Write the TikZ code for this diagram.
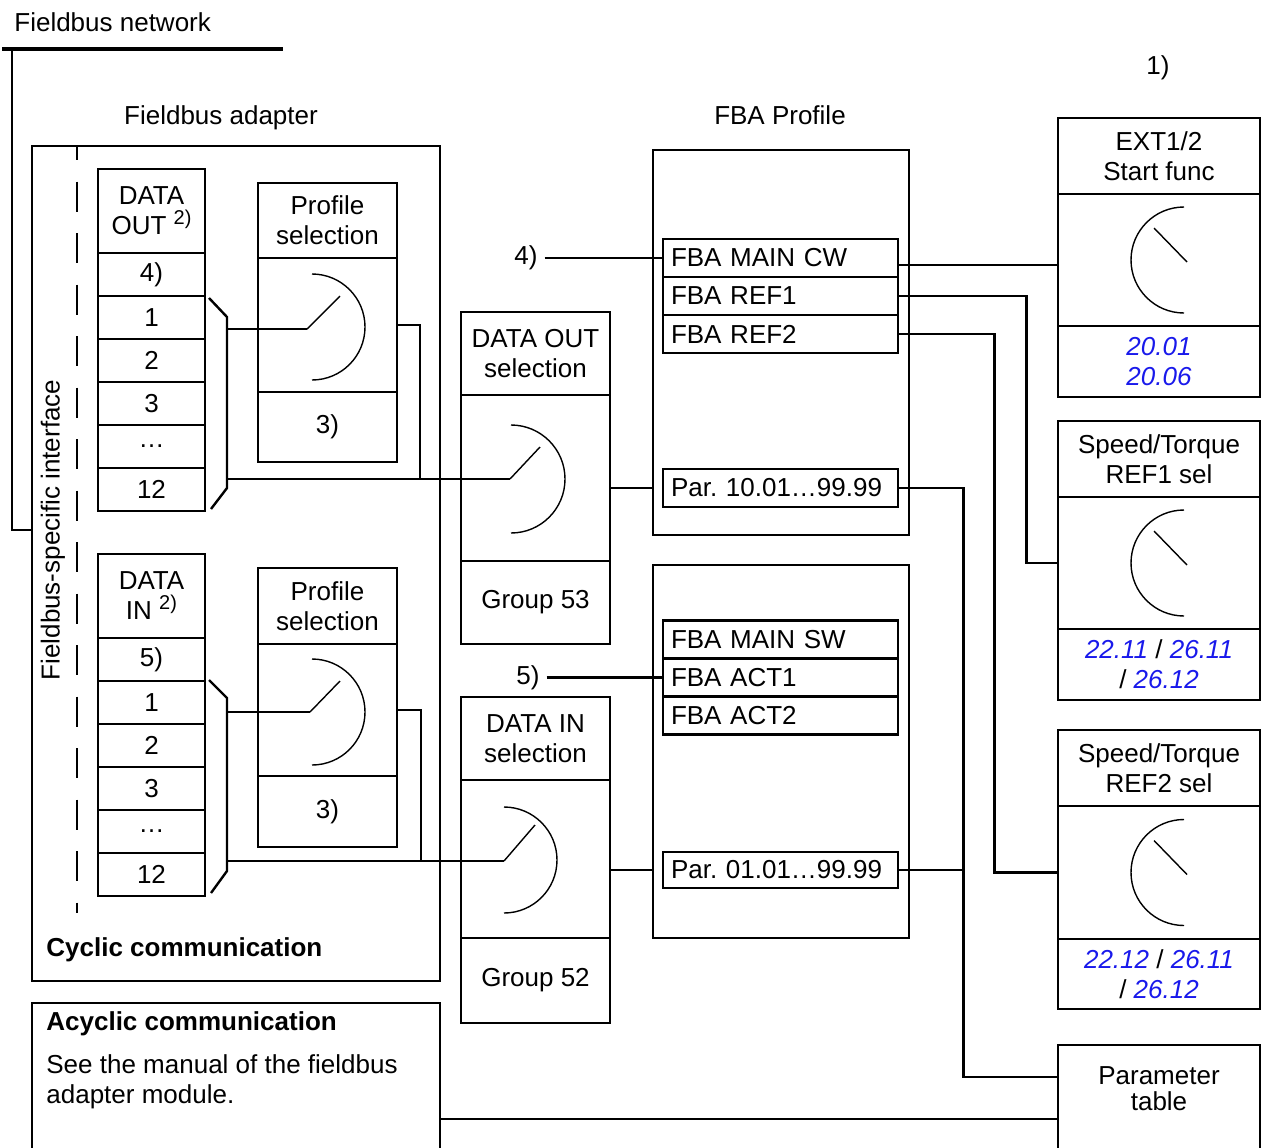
\documentclass[tikz,border=0pt]{standalone}
\usepackage{fontspec}
\setmainfont{Liberation Sans}
\usetikzlibrary{positioning,calc}

\definecolor{parblue}{RGB}{25,25,235}
\newcommand{\pnum}[1]{\textcolor{parblue}{\textit{#1}}}
\newcommand{\supnote}[1]{\raisebox{0.4em}{\fontsize{10}{10}\selectfont #1}}

\begin{document}
\frenchspacing
\begin{tikzpicture}[
    x=0.5pt, y=-0.5pt,
    every node/.style={font=\fontsize{13}{15}\selectfont},
    box/.style={draw, rectangle, line width=1.3pt, inner sep=0pt, align=center},
    cell/.style={box, minimum width=53.5pt, minimum height=21.5pt},
    psel/.style={box, minimum width=69.5pt},
    dsel/.style={box, minimum width=74.5pt},
    fsel/.style={box, minimum width=101pt},
    row/.style={box, minimum height=19pt, text width=109.5pt, inner xsep=4pt, align=left},
    wire/.style={line width=1.2pt},
    sw/.style={line width=0.7pt},
    bus/.style={line width=2.2pt},
    txt/.style={inner sep=0pt},
    head/.style={inner sep=0pt, font=\fontsize{13}{15}\selectfont\bfseries},
]
\useasboundingbox (0,0) rectangle (1264,1147);

% Fieldbus network
\node[txt, anchor=west] (netlbl) at (14,22) {Fieldbus network};
\coordinate (busL) at (2,49);
\coordinate (busR) at (283,49);
\coordinate (tap) at (12,49);
\draw[bus] (busL) -- (busR);

% Fieldbus adapter
\node[txt] (adlbl) at (221,118) {Fieldbus adapter};
\node[box, minimum width=204pt, minimum height=417.5pt] (cyc) at (236,563.5) {};
\node[txt, rotate=90] (iface) at (53,530) {Fieldbus-specific interface};
\draw[wire] (tap) |- (cyc.west |- iface);
\draw[line width=1pt, dash pattern=on 15pt off 10.75pt, dash phase=8pt] (77,146) -- (77,913);
\node[head, anchor=west] (cyclbl) at (46,950) {Cyclic communication};

% DATA OUT / DATA IN words
\node[cell, minimum height=42pt] (dohead) at (151.5,211) {DATA\\OUT \supnote{2)}};
\foreach \lbl [count=\i] in {4), 1, 2, 3, …, 12}
  \node[cell] (do\i) at (151.5,231.5+43*\i) {\lbl};
\node[cell, minimum height=42pt] (dihead) at (151.5,596) {DATA\\IN \supnote{2)}};
\foreach \lbl [count=\i] in {5), 1, 2, 3, …, 12}
  \node[cell] (di\i) at (151.5,616.5+43*\i) {\lbl};

% brackets
\draw[wire] (209,298) -- (227,317) -- (227,488) -- (211,509);
\draw[wire] (209,680) -- (227,698) -- (227,871) -- (211,893);
\coordinate (dotap1) at (227,329);
\coordinate (dotap2) at (227,479);
\coordinate (ditap1) at (227,712);
\coordinate (ditap2) at (227,861);

% Profile selection
\node[psel, minimum height=37.5pt] (pshd1) at (327.5,220.5) {Profile\\selection};
\node[psel, minimum height=67pt] (psmid1) at (327.5,325) {};
\node[psel, minimum height=35pt] (psbot1) at (327.5,427) {3)};
\coordinate (pssw1) at (307,329);
\draw[sw] (312,274) arc[start angle=90, end angle=-90, radius=26.5pt];
\draw[sw] (pssw1) -- ++(33,-33);

\node[psel, minimum height=38pt] (pshd2) at (327.5,606) {Profile\\selection};
\node[psel, minimum height=66pt] (psmid2) at (327.5,710) {};
\node[psel, minimum height=35.5pt] (psbot2) at (327.5,811.5) {3)};
\coordinate (pssw2) at (310,712);
\draw[sw] (312,659) arc[start angle=90, end angle=-90, radius=26.5pt];
\draw[sw] (pssw2) -- ++(30,-31);

% DATA OUT / DATA IN selection
\node[dsel, minimum height=41.5pt] (doshd) at (535.5,353.5) {DATA OUT\\selection};
\node[dsel, minimum height=83pt] (dosmid) at (535.5,478) {};
\node[dsel, minimum height=41.5pt] (dosbot) at (535.5,602.5) {Group 53};
\coordinate (dosw) at (510,479);
\draw[sw] (511,425) arc[start angle=90, end angle=-90, radius=27pt];
\draw[sw] (dosw) -- ++(30,-32);

\node[dsel, minimum height=41.5pt] (dishd) at (535.5,738.5) {DATA IN\\selection};
\node[dsel, minimum height=79pt] (dismid) at (535.5,859) {};
\node[dsel, minimum height=42.5pt] (disbot) at (535.5,980.5) {Group 52};
\coordinate (disw) at (504,861);
\draw[sw] (504,807) arc[start angle=90, end angle=-90, radius=26.5pt];
\draw[sw] (disw) -- ++(31,-36);

% adapter wiring
\coordinate (psjn1) at (420,479);
\coordinate (psjn2) at (421,861);
\draw[wire] (dotap1) -- (pssw1);
\draw[wire] (psmid1.east) -| (psjn1);
\draw[wire] (dotap2) -- (dosw);
\draw[wire] (ditap1) -- (pssw2);
\draw[wire] (psmid2.east) -| (psjn2);
\draw[wire] (ditap2) -- (disw);

% FBA Profile
\node[txt] (fbalbl) at (780,115) {FBA Profile};
\node[box, minimum width=128pt, minimum height=192.5pt] (fbaup) at (781,342.5) {};
\node[row] (mcw) at (780.5,258) {FBA MAIN CW};
\node[row] (ref1) at (780.5,296) {FBA REF1};
\node[row] (ref2) at (780.5,334) {FBA REF2};
\node[row] (par1) at (780.5,488) {Par. 10.01…99.99};
\node[box, minimum width=128pt, minimum height=186.5pt] (fbalo) at (781,751.5) {};
\node[row] (msw) at (780.5,639.5) {FBA MAIN SW};
\node[row] (act1) at (780.5,677.5) {FBA ACT1};
\node[row] (act2) at (780.5,715.5) {FBA ACT2};
\node[row, minimum height=18pt] (par2) at (780.5,870) {Par. 01.01…99.99};

\node (n4) at (526,258) {4)};
\node (n5) at (528,677.5) {5)};
\draw[wire] (n4) -- (mcw);
\draw[wire] (n5) -- (act1);
\draw[wire] (dosmid.east |- par1.west) -- (fbaup.west |- par1.west);
\draw[wire] (dismid.east |- par2.west) -- (fbalo.west |- par2.west);

% drive side
\node[txt] (n1) at (1158,68) {1)};
\node[fsel, minimum height=38pt] (exthd) at (1159,156) {EXT1/2\\Start func};
\node[fsel, minimum height=66pt] (extmid) at (1159,260) {};
\node[fsel, minimum height=35.5pt] (extbot) at (1159,361.5) {\pnum{20.01}\\\pnum{20.06}};

\node[fsel, minimum height=38pt] (r1hd) at (1159,459) {Speed/Torque\\REF1 sel};
\node[fsel, minimum height=66pt] (r1mid) at (1159,563) {};
\node[fsel, minimum height=35.5pt] (r1bot) at (1159,664.5) {\pnum{22.11} / \pnum{26.11}\\/ \pnum{26.12}};

\node[fsel, minimum height=38pt] (r2hd) at (1159,768) {Speed/Torque\\REF2 sel};
\node[fsel, minimum height=66.5pt] (r2mid) at (1159,872.5) {};
\node[fsel, minimum height=35pt] (r2bot) at (1159,974) {\pnum{22.12} / \pnum{26.11}\\/ \pnum{26.12}};

\foreach \m in {extmid, r1mid, r2mid} {
  \draw[sw] ([xshift=12.5pt, yshift=26.5pt]\m.center) arc[start angle=90, end angle=270, radius=26.5pt];
  \draw[sw] ([xshift=-2.5pt, yshift=16pt]\m.center) -- ([xshift=14pt, yshift=-1pt]\m.center);
}

\node[fsel, minimum height=57.5pt] (ptab) at (1159,1102.5) {};
\node[txt, align=center, font=\fontsize{13}{13}\selectfont] (ptabtxt) at (1159,1089) {Parameter\\table};

\draw[wire] ([yshift=-3.5pt]mcw.east) -- ++(160,0);
\draw[wire] (ref1.east) -- ++(127,0) |- (r1mid.west);
\draw[wire] (ref2.east) -- ++(95,0) |- (r2mid.west);
\draw[wire] (par1.east) -- ++(64,0) |- ([yshift=12.75pt]ptab.west);
\draw[wire] (par2.east) -- ++(64,0);

% Acyclic communication
\node[box, minimum width=204pt, minimum height=116pt] (acyc) at (236,1119) {};
\node[head, anchor=west] (acyclbl) at (46,1024) {Acyclic communication};
\node[txt, anchor=north west, align=left] (acyctxt) at (46,1054) {See the manual of the fieldbus\\adapter module.};
\draw[wire] (acyc.east) -- (acyc.east -| ptab.west);

\end{tikzpicture}
\end{document}
